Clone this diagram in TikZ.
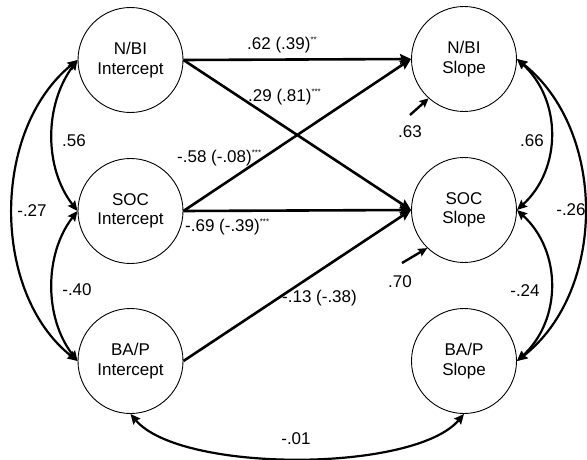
\documentclass[tikz,border=0pt]{standalone}
\usepackage{fontspec}
\setmainfont{Liberation Sans}
\usetikzlibrary{arrows.meta}
\newcommand\sigstar[1]{\raisebox{0.75ex}{\fontsize{8}{8}\selectfont #1}}
\begin{document}
\begin{tikzpicture}[x=1pt,y=-1pt,
  latent/.style={circle,draw,line width=0.9pt,minimum size=105pt,inner sep=0pt,align=center,font=\fontsize{17}{19.5}\selectfont},
  pathar/.style={line width=2.6pt,-{Stealth[length=11pt,width=10pt,inset=1.5pt]}},
  resid/.style={line width=2.4pt,-{Stealth[length=9pt,width=8.5pt,inset=1.5pt]}},
  cov/.style={line width=2.2pt,{Stealth[length=10pt,width=9pt,inset=1.5pt]}-{Stealth[length=10pt,width=9pt,inset=1.5pt]}},
  lbl/.style={inner sep=0pt,font=\fontsize{17}{20}\selectfont}]
\useasboundingbox (0,0) rectangle (587,460);

% latent variables
\node[latent] (NBII) at (130.5,60) {N/BI\\Intercept};
\node[latent] (SOCI) at (130.5,211) {SOC\\Intercept};
\node[latent] (BAPI) at (130.5,361) {BA/P\\Intercept};
\node[latent] (NBIS) at (464,59) {N/BI\\Slope};
\node[latent] (SOCS) at (464,210) {SOC\\Slope};
\node[latent] (BAPS) at (464,361) {BA/P\\Slope};

% regression paths
\draw[pathar] (NBII.east) -- (NBIS.west);
\draw[pathar] (NBII.east) -- (SOCS.west);
\draw[pathar] (SOCI.east) -- (NBIS.west);
\draw[pathar] (SOCI.east) -- (SOCS.west);
\draw[pathar] (BAPI.east) -- (SOCS.west);

% path labels
\node[lbl,anchor=west] (l1) at (247,45) {.62 (.39)\sigstar{**}};
\node[lbl,anchor=west] (l2) at (248,97) {.29 (.81)\sigstar{***}};
\node[lbl,anchor=west] (l3) at (177,158) {-.58 (-.08)\sigstar{***}};
\node[lbl,anchor=west] (l4) at (185,227) {-.69 (-.39)\sigstar{***}};
\node[lbl,anchor=west] (l5) at (282,298) {-.13 (-.38)};

% residuals
\coordinate (r1) at (410,115);
\coordinate (r2) at (402,263);
\draw[resid] (r1) -- (NBIS.228);
\draw[resid] (r2) -- (SOCS.226);
\node[lbl] (e1) at (410,132) {.63};
\node[lbl] (e2) at (400,282) {.70};

% covariances left
\draw[cov] (NBII.west) .. controls (44,105) and (44,168) .. (SOCI.west);
\draw[cov] (SOCI.west) .. controls (44,254) and (44,318) .. (BAPI.west);
\draw[cov] (NBII.west) .. controls (-9,130) and (-9,293) .. (BAPI.west);
\node[lbl] (c1) at (74,141) {.56};
\node[lbl] (c2) at (77,290) {-.40};
\node[lbl] (c3) at (32,211) {-.27};

% covariances right
\draw[cov] (NBIS.east) .. controls (562,100) and (562,169) .. (SOCS.east);
\draw[cov] (SOCS.east) .. controls (562,251) and (562,320) .. (BAPS.east);
\draw[cov] (NBIS.east) .. controls (607,130) and (607,291) .. (BAPS.east);
\node[lbl] (c4) at (532,141) {.66};
\node[lbl] (c5) at (525,291) {-.24};
\node[lbl] (c6) at (571,210) {-.26};

% bottom covariance
\draw[cov] (BAPI.south) .. controls (180,473) and (414,473) .. (BAPS.south);
\node[lbl] (c7) at (296,439) {-.01};
\end{tikzpicture}
\end{document}
